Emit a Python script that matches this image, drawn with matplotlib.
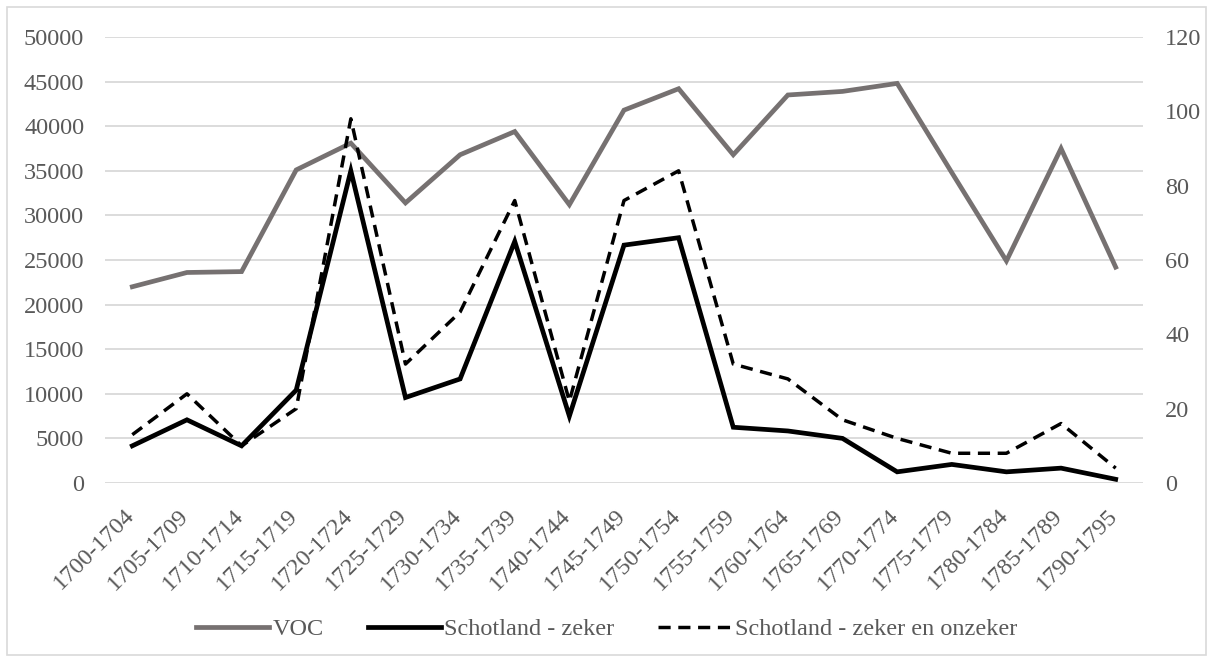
import matplotlib.pyplot as plt
import matplotlib.transforms as mtransforms
from matplotlib.patches import Rectangle

plt.rcParams['font.family'] = ['Liberation Serif', 'DejaVu Serif']

periods = ["1700-1704", "1705-1709", "1710-1714", "1715-1719", "1720-1724",
           "1725-1729", "1730-1734", "1735-1739", "1740-1744", "1745-1749",
           "1750-1754", "1755-1759", "1760-1764", "1765-1769", "1770-1774",
           "1775-1779", "1780-1784", "1785-1789", "1790-1795"]

# VOC (left axis)
voc = [22000, 23600, 23700, 35100, 38100, 31400, 36800, 39400, 31200, 41800,
       44200, 36800, 43500, 43900, 44800, 34800, 24900, 37500, 24200]

# Schotland (right axis)
schot_zeker = [10, 17, 10, 25, 84, 23, 28, 65, 18, 64,
               66, 15, 14, 12, 3, 5, 3, 4, 1]
schot_onzeker = [13, 24, 10, 20, 98, 32, 46, 76, 22, 76,
                 84, 32, 28, 17, 12, 8, 8, 16, 4]

text_col = '#595959'
grid_col = '#d9d9d9'
voc_col = '#767171'
fs = 17.5

fig = plt.figure(figsize=(12.13, 6.62), dpi=100)
fig.patches.append(Rectangle((7 / 1213, 7 / 662), 1 - 14 / 1213, 1 - 14 / 662,
                             transform=fig.transFigure, fill=False,
                             edgecolor=grid_col, linewidth=1.2))

ax = fig.add_axes([105 / 1213, 1 - 483 / 662, 1038 / 1213, 446 / 662])
ax2 = ax.twinx()

x = list(range(len(periods)))
l1, = ax.plot(x, voc, color=voc_col, linewidth=3.4, solid_joinstyle='miter',
              label='VOC')
l2, = ax2.plot(x, schot_zeker, color='black', linewidth=3.4,
               solid_joinstyle='miter', label='Schotland - zeker')
l3, = ax2.plot(x, schot_onzeker, color='black', linewidth=2.5,
               linestyle=(0, (3.5, 2.2)), label='Schotland - zeker en onzeker')

ax.set_xlim(-0.5, len(periods) - 0.5)
ax.set_ylim(0, 50000)
ax.set_yticks(range(0, 50001, 5000))
ax2.set_ylim(0, 120)
ax2.set_yticks(range(0, 121, 20))

ax.grid(axis='y', color=grid_col, linewidth=1.3)
ax.set_axisbelow(True)
for a in (ax, ax2):
    for s in a.spines.values():
        s.set_visible(False)

ax.set_xticks(x)
ax.set_xticklabels(periods, rotation=45, ha='right', rotation_mode='anchor')
ax.tick_params(axis='x', length=0, pad=10, labelsize=fs, colors=text_col)
ax.tick_params(axis='y', length=0, pad=15, labelsize=fs, colors=text_col)
ax2.tick_params(axis='y', length=0, pad=16, labelsize=fs, colors=text_col)

# nudge the rotated labels down/left like the original
shift = mtransforms.ScaledTranslation(-9 / 100, -8 / 100, fig.dpi_scale_trans)
for lab in ax.get_xticklabels():
    lab.set_transform(lab.get_transform() + shift)

fig.legend(handles=[l1, l2, l3], loc='center', bbox_to_anchor=(0.5, 1 - 629 / 662),
           ncol=3, frameon=False, fontsize=fs, handlelength=3.0,
           handletextpad=0.15, columnspacing=1.8, labelcolor=text_col)

fig.savefig('out.png', dpi=100)
